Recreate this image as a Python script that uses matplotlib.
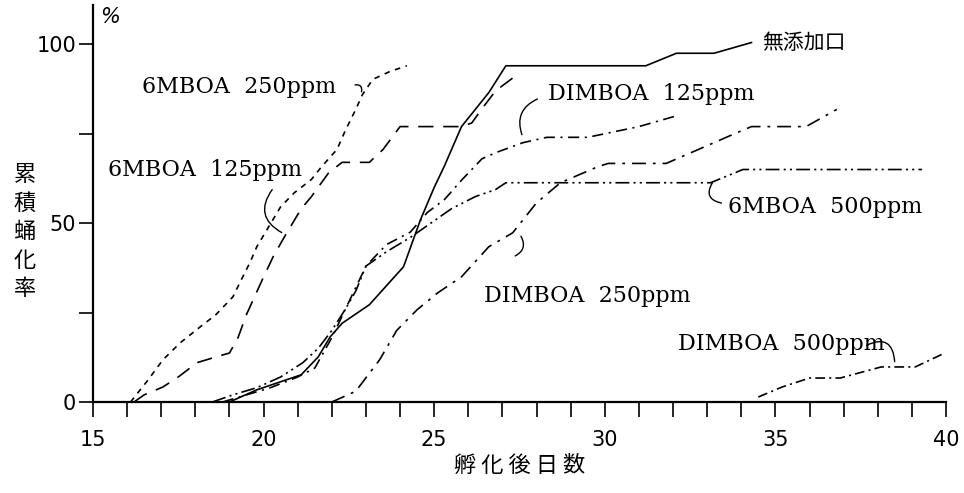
import matplotlib
matplotlib.use('Agg')
import matplotlib.pyplot as plt
from matplotlib.ticker import MultipleLocator

plt.rcParams['lines.scale_dashes'] = False

# days after hatching (x) and cumulative pupation rate % (y)
ctrl_x = [19.0, 19.8, 21.1, 21.6, 21.95, 22.3, 23.1, 24.1, 24.6, 25.0, 25.3, 25.8, 26.6, 27.1, 31.2, 32.1, 33.2, 34.3]
ctrl_y = [0, 3.4, 7.6, 12.6, 18.2, 22, 27.2, 37.8, 51, 60, 66, 77, 86.5, 94, 94, 97.5, 97.5, 100.5]

m125_x = [16.2, 16.5, 17.05, 17.5, 18.05, 18.5, 19.0, 19.25, 19.5, 20.0, 20.3, 20.6, 21.1, 21.4, 21.9, 22.3, 23.1, 23.5, 24.0, 25.8, 26.1, 26.4, 26.8, 27.5]
m125_y = [0, 2, 4.2, 7, 11, 12.3, 13.7, 18, 24.5, 35, 41, 46, 54, 57.4, 64, 67, 67, 70.6, 77, 77, 78, 82, 87, 92]

m250_x = [16.1, 16.6, 17.05, 17.55, 18.1, 18.6, 19.1, 19.3, 19.6, 19.8, 20.1, 20.5, 20.9, 21.4, 21.7, 22.15, 22.4, 22.7, 22.9, 23.2, 23.7, 24.2]
m250_y = [0, 6, 11.8, 16.5, 20.7, 24.4, 29.4, 33.3, 39, 43.4, 48.2, 54.6, 58.5, 62.2, 65.8, 70.6, 76, 81.8, 86, 90.2, 92.4, 94]

m500_x = [18.5, 19.1, 19.8, 20.5, 21.15, 21.6, 22.0, 22.4, 22.7, 23.0, 23.6, 24.3, 24.9, 25.5, 26.2, 26.8, 27.1, 33.1, 34.05, 39.3]
m500_y = [0, 2, 4, 7, 11, 15, 20, 26, 31, 38, 42, 46, 50, 54, 57.4, 59.4, 61.3, 61.3, 65, 65]

d125_x = [18.8, 19.5, 20.2, 21.0, 21.5, 22.0, 22.5, 23.0, 23.6, 24.3, 24.8, 25.3, 25.8, 26.4, 26.8, 27.6, 28.3, 29.5, 31.0, 32.1]
d125_y = [0, 2, 4, 7, 9.5, 18, 28, 38, 44, 47.5, 53, 56.6, 62, 68, 69.7, 72.5, 74, 74, 77, 80]

d250_x = [22.0, 22.7, 23.4, 23.9, 24.5, 25.1, 25.8, 26.6, 27.3, 28.0, 28.7, 29.8, 30.1, 31.8, 33.9, 34.3, 35.9, 36.8]
d250_y = [0, 3, 11.8, 20, 25.8, 30.5, 35, 43.4, 47.3, 55.7, 61.3, 65.8, 66.7, 66.7, 75.4, 77, 77, 81.8]

d500_x = [34.5, 35.2, 36.0, 36.9, 38.1, 39.1, 39.9]
d500_y = [1.4, 4.2, 6.7, 6.7, 9.8, 9.8, 13.4]

jp = ['Noto Sans CJK JP', 'DejaVu Sans']
serif = 'DejaVu Serif'

fig = plt.figure(figsize=(9.64, 4.93), dpi=100)
ax = fig.add_axes([0.0965, 0.1846, 0.8848, 0.8053])

lw = 1.2
ax.plot(ctrl_x, ctrl_y, color='black', lw=lw)
ax.plot(m125_x, m125_y, color='black', lw=lw, dashes=(11, 7))
ax.plot(m250_x, m250_y, color='black', lw=lw, dashes=(4, 4))
ax.plot(m500_x, m500_y, color='black', lw=lw, dashes=(10, 3, 1.5, 3, 1.5, 3))
ax.plot(d125_x, d125_y, color='black', lw=lw, dashes=(8, 4, 1.5, 4))
ax.plot(d250_x, d250_y, color='black', lw=lw, dashes=(10, 5, 2, 5))
ax.plot(d500_x, d500_y, color='black', lw=lw, dashes=(7, 3, 1.5, 3))

ax.set_xlim(15, 40)
ax.set_ylim(0, 111)

for s in ['top', 'right']:
    ax.spines[s].set_visible(False)
ax.spines['left'].set_linewidth(1.6)
ax.spines['bottom'].set_linewidth(1.6)

ax.xaxis.set_major_locator(MultipleLocator(5))
ax.xaxis.set_minor_locator(MultipleLocator(1))
ax.set_yticks([0, 50, 100])
ax.yaxis.set_minor_locator(MultipleLocator(25))
ax.tick_params(axis='x', which='both', direction='out', length=11, width=1.2, pad=9, labelsize=15)
ax.tick_params(axis='y', which='both', direction='out', length=10, width=1.2, pad=2, labelsize=15)

ax.set_xlabel('孵 化 後 日 数', family=jp, fontsize=16, labelpad=3)

# vertical y label
fig.text(0.026, 0.53, '累\n積\n蛹\n化\n率', family=jp, fontsize=16,
         ha='center', va='center', linespacing=1.3)
ax.text(15.2, 107.5, '%', fontsize=15, style='italic', ha='left', va='center')

# curve labels
ax.text(16.45, 88, '6MBOA  250ppm', family=serif, fontsize=16, va='center')
ax.text(15.45, 65, '6MBOA  125ppm', family=serif, fontsize=16, va='center')
ax.text(28.35, 86, 'DIMBOA  125ppm', family=serif, fontsize=16, va='center')
ax.text(34.6, 100.5, '無添加口', family=jp, fontsize=15, va='center')
ax.text(33.6, 54.5, '6MBOA  500ppm', family=serif, fontsize=16, va='center')
ax.text(26.45, 29.5, 'DIMBOA  250ppm', family=serif, fontsize=16, va='center')
ax.text(32.15, 16.3, 'DIMBOA  500ppm', family=serif, fontsize=16, va='center')

# hand-drawn leader squiggles
lead = dict(arrowstyle='-', lw=1.0, color='black')
ax.annotate('', xy=(22.85, 86), xytext=(22.6, 88.5), arrowprops=dict(lead, connectionstyle='arc3,rad=-0.9'))
ax.annotate('', xy=(20.6, 47), xytext=(20.3, 60), arrowprops=dict(lead, connectionstyle='arc3,rad=0.6'))
ax.annotate('', xy=(27.6, 74), xytext=(28.1, 85), arrowprops=dict(lead, connectionstyle='arc3,rad=0.5'))
ax.annotate('', xy=(33.5, 55.5), xytext=(33.2, 62), arrowprops=dict(lead, connectionstyle='arc3,rad=0.8'))
ax.annotate('', xy=(27.3, 40.5), xytext=(27.5, 47), arrowprops=dict(lead, connectionstyle='arc3,rad=-0.6'))
ax.annotate('', xy=(38.5, 10.5), xytext=(37.6, 15.5), arrowprops=dict(lead, connectionstyle='arc3,rad=-0.8'))

fig.savefig('out.png', dpi=100, facecolor='white')
